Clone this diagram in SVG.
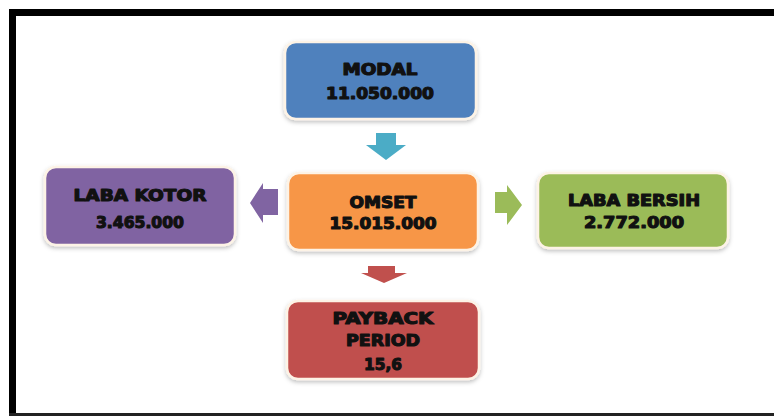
<svg xmlns="http://www.w3.org/2000/svg" width="774" height="416" viewBox="0 0 774 416">
<defs>
<filter id="sh" x="-10%" y="-10%" width="125%" height="135%">
<feDropShadow dx="0" dy="2" stdDeviation="2" flood-color="#000" flood-opacity="0.25"/>
</filter>
</defs>
<style>
.box{stroke:#fdf3e6;stroke-width:2.5;filter:url(#sh)}
.t{font-family:"DejaVu Sans","Lato",sans-serif;font-weight:bold;font-size:15px;fill:#111;stroke:#111;stroke-width:1.1;stroke-linejoin:round;text-anchor:middle}
</style>
<rect x="0" y="0" width="774" height="416" fill="#fff"/>
<g id="frame">
<rect x="9" y="9" width="765" height="7" fill="#000"/>
<rect x="9" y="9" width="7" height="407" fill="#000"/>
<rect x="9" y="413" width="765" height="3" fill="#222"/>
</g>
<g id="connectors">
<path d="M376,133 H396 V145 H406 L386,160 L366,145 H376 Z" fill="#4BACC6"/>
<path d="M368,266 H395 V273 H407 L384,283 L361,273 H368 Z" fill="#C0504D"/>
<path d="M278,189 V215 H263 V223 L250,203 L263,183 V189 Z" fill="#8064A2"/>
<path d="M495,192 V213 H507 V225 L522,205 L507,185 V192 Z" fill="#9BBB59"/>
</g>
<g id="modal">
<rect class="box" x="285" y="42" width="191" height="77" rx="11" fill="#4F81BD"/>
<text class="t" x="380" y="75" textLength="75" lengthAdjust="spacingAndGlyphs">MODAL</text>
<text class="t" x="380" y="99" textLength="108" lengthAdjust="spacingAndGlyphs">11.050.000</text>
</g>
<g id="omset">
<rect class="box" x="288" y="173" width="190" height="77" rx="11" fill="#F79646"/>
<text class="t" x="383" y="208" textLength="67" lengthAdjust="spacingAndGlyphs">OMSET</text>
<text class="t" x="383" y="229" textLength="107" lengthAdjust="spacingAndGlyphs">15.015.000</text>
</g>
<g id="laba-kotor">
<rect class="box" x="45" y="167" width="190" height="78" rx="11" fill="#8064A2"/>
<text class="t" x="140" y="201" textLength="133" lengthAdjust="spacingAndGlyphs">LABA KOTOR</text>
<text class="t" x="140" y="228" textLength="88" lengthAdjust="spacingAndGlyphs">3.465.000</text>
</g>
<g id="laba-bersih">
<rect class="box" x="538" y="173" width="190" height="75" rx="11" fill="#9BBB59"/>
<text class="t" x="634" y="206" textLength="132" lengthAdjust="spacingAndGlyphs">LABA BERSIH</text>
<text class="t" x="634" y="228" textLength="100" lengthAdjust="spacingAndGlyphs">2.772.000</text>
</g>
<g id="payback">
<rect class="box" x="287" y="301" width="192" height="78" rx="11" fill="#C0504D"/>
<text class="t" x="383" y="324" textLength="101" lengthAdjust="spacingAndGlyphs">PAYBACK</text>
<text class="t" x="383" y="346" textLength="74" lengthAdjust="spacingAndGlyphs">PERIOD</text>
<text class="t" x="383" y="370" textLength="38" lengthAdjust="spacingAndGlyphs">15,6</text>
</g>
</svg>
